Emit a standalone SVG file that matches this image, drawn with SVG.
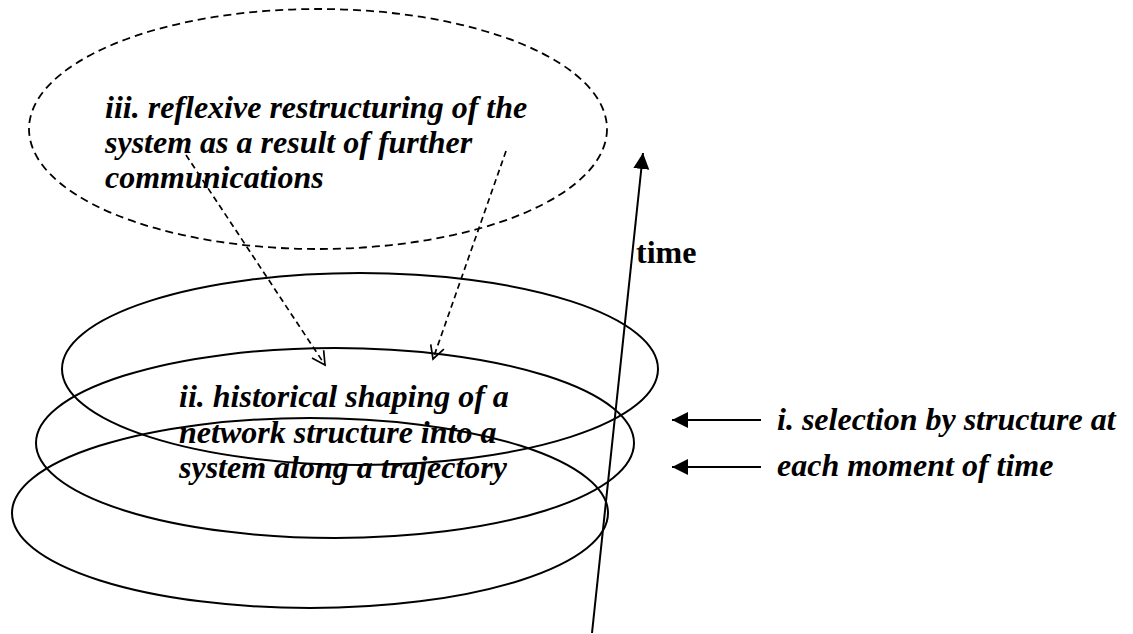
<svg xmlns="http://www.w3.org/2000/svg" width="1133" height="634" viewBox="0 0 1133 634">
<defs>
<style>
.lbl{font-family:"Liberation Serif","Times New Roman",serif;font-size:32px;font-weight:bold;font-style:italic;fill:#000}
.tm{font-family:"Liberation Serif","Times New Roman",serif;font-size:32px;font-weight:bold;fill:#000}
.solid{fill:none;stroke:#000;stroke-width:2}
.dash{fill:none;stroke:#000;stroke-width:1.8;stroke-dasharray:8 5}
.dasharr{fill:none;stroke:#000;stroke-width:1.7;stroke-dasharray:6 4}
.ln{fill:none;stroke:#000;stroke-width:2}
</style>
<marker id="open" markerWidth="16" markerHeight="16" refX="14" refY="8" orient="auto" markerUnits="userSpaceOnUse">
<path d="M1,1 L14,8 L1,15" fill="none" stroke="#000" stroke-width="1.7"/>
</marker>
<marker id="filled" markerWidth="18" markerHeight="18" refX="16" refY="8" orient="auto" markerUnits="userSpaceOnUse">
<path d="M0,0 L16,8 L0,16 Z" fill="#000"/>
</marker>
</defs>
<rect width="1133" height="634" fill="#fff"/>
<g id="reflexive">
<ellipse class="dash" cx="318" cy="129" rx="289" ry="120"/>
<text class="lbl" x="105" y="118">iii. reflexive restructuring of the</text>
<text class="lbl" x="105" y="153">system as a result of further</text>
<text class="lbl" x="105" y="188">communications</text>
</g>
<g id="layer-top">
<ellipse class="solid" cx="360" cy="369" rx="298" ry="96"/>
</g>
<g id="layer-middle">
<ellipse class="solid" cx="335" cy="443" rx="299" ry="95"/>
</g>
<g id="layer-bottom">
<ellipse class="solid" cx="310" cy="513" rx="298" ry="95"/>
</g>
<g id="historical">
<text class="lbl" x="179" y="407">ii. historical shaping of a</text>
<text class="lbl" x="179" y="443">network structure into a</text>
<text class="lbl" x="179" y="478">system along a trajectory</text>
</g>
<g id="selection">
<text class="lbl" x="777" y="430">i. selection by structure at</text>
<text class="lbl" x="777" y="476">each moment of time</text>
</g>
<g id="time-label">
<text class="tm" x="636" y="263">time</text>
</g>
<g id="connectors">
<line class="dasharr" x1="186" y1="155" x2="325" y2="365" marker-end="url(#open)"/>
<line class="dasharr" x1="506" y1="151" x2="433" y2="359" marker-end="url(#open)"/>
<line class="ln" x1="592" y1="633" x2="643" y2="153" marker-end="url(#filled)"/>
<line class="ln" x1="761" y1="420" x2="672" y2="420" marker-end="url(#filled)"/>
<line class="ln" x1="761" y1="467" x2="672" y2="467" marker-end="url(#filled)"/>
</g>
</svg>
